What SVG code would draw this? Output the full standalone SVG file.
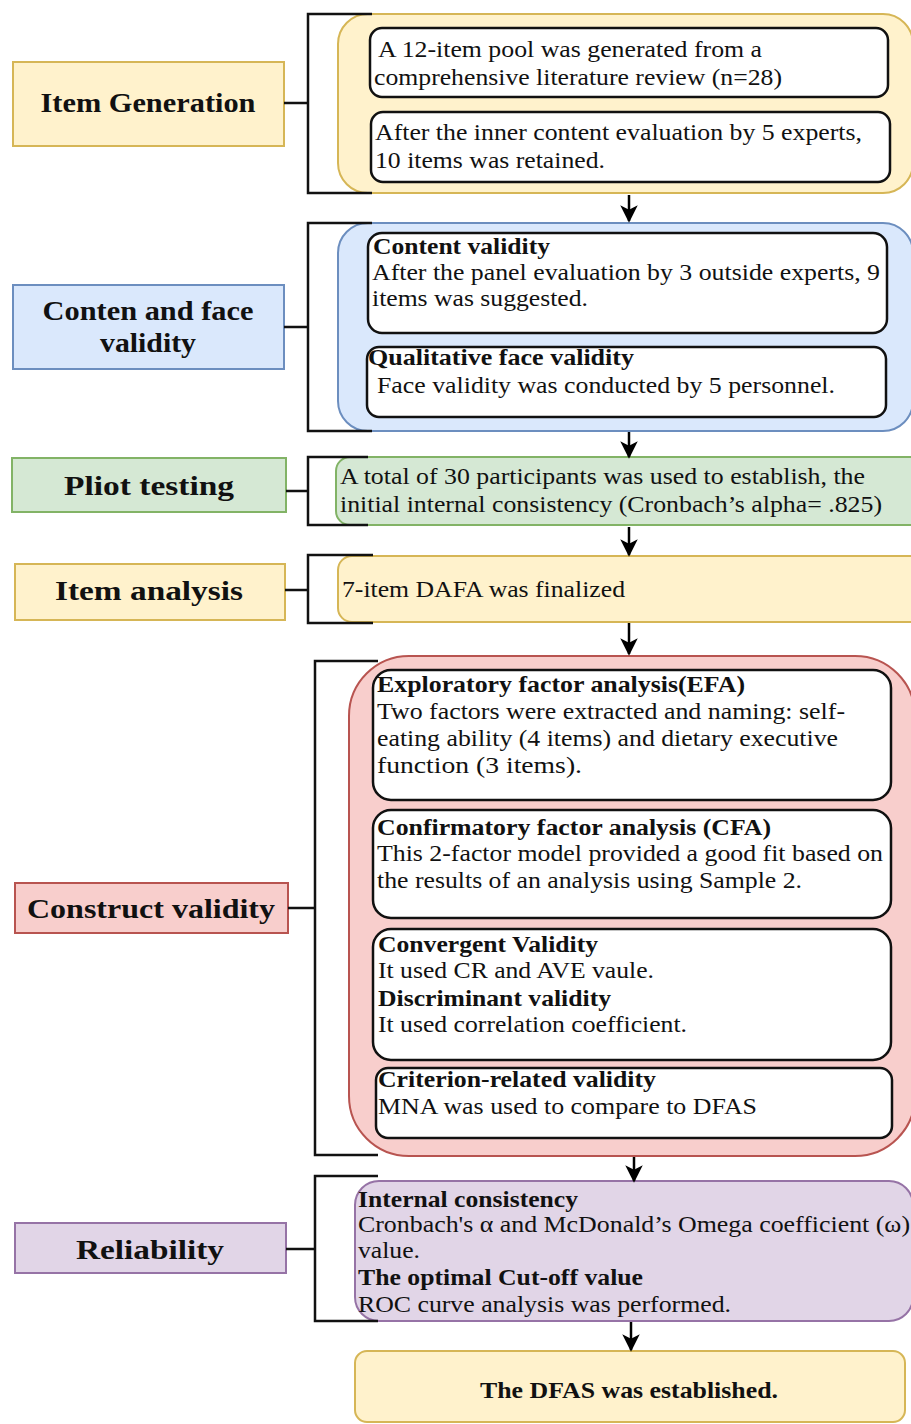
<svg xmlns="http://www.w3.org/2000/svg" width="911" height="1424" viewBox="0 0 911 1424">
<defs>
<marker id="arr" viewBox="0 0 10 10" refX="9" refY="5" markerWidth="7" markerHeight="7.5" orient="auto" markerUnits="strokeWidth">
<path d="M0,0 L10,5 L0,10 L2.5,5 z" fill="#000"/>
</marker>
<style>
.lbl{font-family:"Liberation Serif","Times New Roman",serif;font-weight:bold;font-size:27px;fill:#111;text-anchor:middle}
.t{font-family:"Liberation Serif","Times New Roman",serif;font-size:23px;fill:#111}
.b{font-family:"Liberation Serif","Times New Roman",serif;font-size:23px;font-weight:bold;fill:#111}
.inner{fill:#fff;stroke:#111;stroke-width:2.5}
.yel{fill:#fff2cc;stroke:#d6b656;stroke-width:2}
.blu{fill:#dae8fc;stroke:#6c8ebf;stroke-width:2}
.grn{fill:#d5e8d4;stroke:#82b366;stroke-width:2}
.red{fill:#f8cecc;stroke:#b85450;stroke-width:2}
.pur{fill:#e1d5e7;stroke:#9673a6;stroke-width:2}
.br{fill:none;stroke:#111;stroke-width:2.5}
.ar{fill:none;stroke:#000;stroke-width:2.5;marker-end:url(#arr)}
</style>
</defs>
<rect width="911" height="1424" fill="#fff"/>

<g id="item-generation">
<rect class="yel" x="13" y="62" width="271" height="84"/>
<text class="lbl" x="148" y="112" textLength="215" lengthAdjust="spacingAndGlyphs">Item Generation</text>
<rect class="yel" x="338" y="14" width="575" height="179" rx="30"/>
<rect class="inner" x="370" y="28" width="518" height="69" rx="12"/>
<text class="t" x="378" y="57" textLength="384" lengthAdjust="spacingAndGlyphs">A 12-item pool was generated from a</text>
<text class="t" x="374" y="85" textLength="408" lengthAdjust="spacingAndGlyphs">comprehensive literature review (n=28)</text>
<rect class="inner" x="371" y="112" width="519" height="70" rx="12"/>
<text class="t" x="375" y="140" textLength="487" lengthAdjust="spacingAndGlyphs">After the inner content evaluation by 5 experts,</text>
<text class="t" x="375" y="168" textLength="230" lengthAdjust="spacingAndGlyphs">10 items was retained.</text>
</g>

<g id="content-face-validity">
<rect class="blu" x="13" y="285" width="271" height="84"/>
<text class="lbl" x="148" y="320" textLength="211" lengthAdjust="spacingAndGlyphs">Conten and face</text>
<text class="lbl" x="148" y="352" textLength="96" lengthAdjust="spacingAndGlyphs">validity</text>
<rect class="blu" x="338" y="223" width="575" height="208" rx="30"/>
<rect class="inner" x="368" y="233" width="519" height="100" rx="14"/>
<text class="b" x="373" y="254" textLength="177" lengthAdjust="spacingAndGlyphs">Content validity</text>
<text class="t" x="372" y="280" textLength="508" lengthAdjust="spacingAndGlyphs">After the panel evaluation by 3 outside experts, 9</text>
<text class="t" x="372" y="306" textLength="216" lengthAdjust="spacingAndGlyphs">items was suggested.</text>
<rect class="inner" x="367" y="347" width="519" height="70" rx="12"/>
<text class="b" x="368" y="365" textLength="266" lengthAdjust="spacingAndGlyphs">Qualitative face validity</text>
<text class="t" x="377" y="393" textLength="458" lengthAdjust="spacingAndGlyphs">Face validity was conducted by 5 personnel.</text>
</g>

<g id="pilot-testing">
<rect class="grn" x="12" y="458" width="274" height="54"/>
<text class="lbl" x="149" y="495" textLength="170" lengthAdjust="spacingAndGlyphs">Pliot testing</text>
<rect class="grn" x="336" y="457" width="590" height="68" rx="14"/>
<text class="t" x="340" y="484" textLength="525" lengthAdjust="spacingAndGlyphs">A total of 30 participants was used to establish, the</text>
<text class="t" x="340" y="512" textLength="542" lengthAdjust="spacingAndGlyphs">initial internal consistency (Cronbach’s alpha= .825)</text>
</g>

<g id="item-analysis">
<rect class="yel" x="15" y="564" width="270" height="56"/>
<text class="lbl" x="149" y="600" textLength="188" lengthAdjust="spacingAndGlyphs">Item analysis</text>
<rect class="yel" x="338" y="556" width="590" height="66" rx="14"/>
<text class="t" x="342" y="597" textLength="283" lengthAdjust="spacingAndGlyphs">7-item DAFA was finalized</text>
</g>

<g id="construct-validity">
<rect class="red" x="15" y="883" width="273" height="50"/>
<text class="lbl" x="151" y="918" textLength="248" lengthAdjust="spacingAndGlyphs">Construct validity</text>
<rect class="red" x="349" y="656" width="566" height="500" rx="60"/>
<rect class="inner" x="373" y="670" width="518" height="130" rx="18"/>
<text class="b" x="377" y="692" textLength="368" lengthAdjust="spacingAndGlyphs">Exploratory factor analysis(EFA)</text>
<text class="t" x="377" y="719" textLength="468" lengthAdjust="spacingAndGlyphs">Two factors were extracted and naming: self-</text>
<text class="t" x="377" y="746" textLength="461" lengthAdjust="spacingAndGlyphs">eating ability (4 items) and dietary executive</text>
<text class="t" x="377" y="773" textLength="205" lengthAdjust="spacingAndGlyphs">function (3 items).</text>
<rect class="inner" x="373" y="810" width="518" height="108" rx="18"/>
<text class="b" x="377" y="835" textLength="394" lengthAdjust="spacingAndGlyphs">Confirmatory factor analysis (CFA)</text>
<text class="t" x="377" y="861" textLength="506" lengthAdjust="spacingAndGlyphs">This 2-factor model provided a good fit based on</text>
<text class="t" x="377" y="888" textLength="425" lengthAdjust="spacingAndGlyphs">the results of an analysis using Sample 2.</text>
<rect class="inner" x="373" y="929" width="518" height="131" rx="18"/>
<text class="b" x="378" y="952" textLength="220" lengthAdjust="spacingAndGlyphs">Convergent Validity</text>
<text class="t" x="378" y="978" textLength="276" lengthAdjust="spacingAndGlyphs">It used CR and AVE vaule.</text>
<text class="b" x="378" y="1006" textLength="233" lengthAdjust="spacingAndGlyphs">Discriminant validity</text>
<text class="t" x="378" y="1032" textLength="309" lengthAdjust="spacingAndGlyphs">It used correlation coefficient.</text>
<rect class="inner" x="376" y="1068" width="516" height="70" rx="12"/>
<text class="b" x="378" y="1087" textLength="278" lengthAdjust="spacingAndGlyphs">Criterion-related validity</text>
<text class="t" x="378" y="1114" textLength="379" lengthAdjust="spacingAndGlyphs">MNA was used to compare to DFAS</text>
</g>

<g id="reliability">
<rect class="pur" x="15" y="1223" width="271" height="50"/>
<text class="lbl" x="150" y="1259" textLength="148" lengthAdjust="spacingAndGlyphs">Reliability</text>
<rect class="pur" x="355" y="1181" width="558" height="140" rx="24"/>
<text class="b" x="358" y="1207" textLength="220" lengthAdjust="spacingAndGlyphs">Internal consistency</text>
<text class="t" x="358" y="1232" textLength="552" lengthAdjust="spacingAndGlyphs">Cronbach's α and McDonald’s Omega coefficient (ω)</text>
<text class="t" x="358" y="1258" textLength="62" lengthAdjust="spacingAndGlyphs">value.</text>
<text class="b" x="358" y="1285" textLength="285" lengthAdjust="spacingAndGlyphs">The optimal Cut-off value</text>
<text class="t" x="358" y="1312" textLength="373" lengthAdjust="spacingAndGlyphs">ROC curve analysis was performed.</text>
</g>

<g id="dfas-established">
<rect class="yel" x="355" y="1351" width="550" height="71" rx="12"/>
<text class="b" x="629" y="1398" text-anchor="middle" font-size="21" textLength="298" lengthAdjust="spacingAndGlyphs">The DFAS was established.</text>
</g>

<g id="connectors">
<path class="br" d="M284,103 H308 M372,14 H308 V193 H372"/>
<path class="br" d="M284,327 H308 M372,223 H308 V431 H372"/>
<path class="br" d="M286,491 H308 M368,457 H308 V525 H368"/>
<path class="br" d="M285,590 H308 M373,555 H308 V623 H373"/>
<path class="br" d="M288,908 H315 M378,661 H315 V1155 H378"/>
<path class="br" d="M286,1249 H315 M378,1176 H315 V1321 H378"/>
<line class="ar" x1="629" y1="195" x2="629" y2="221"/>
<line class="ar" x1="629" y1="432" x2="629" y2="457"/>
<line class="ar" x1="629" y1="527" x2="629" y2="555"/>
<line class="ar" x1="629" y1="623" x2="629" y2="654"/>
<line class="ar" x1="634" y1="1157" x2="634" y2="1181"/>
<line class="ar" x1="631" y1="1322" x2="631" y2="1350"/>
</g>
</svg>
